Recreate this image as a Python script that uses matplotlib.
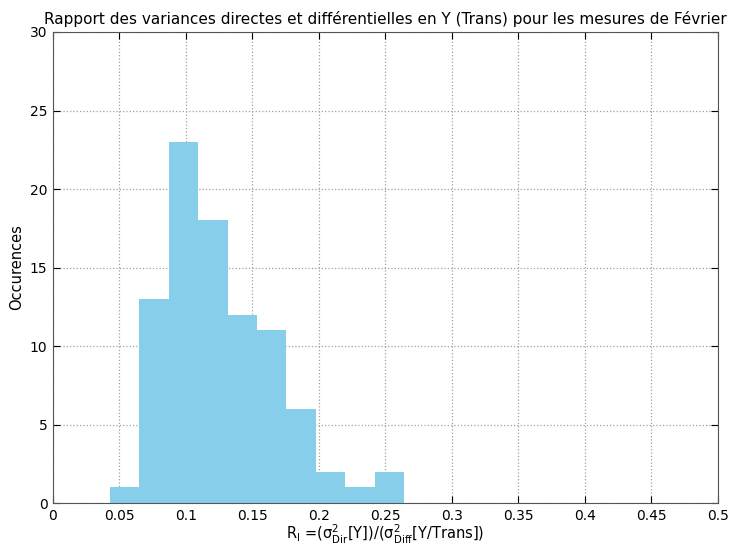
import matplotlib
matplotlib.use("Agg")
import matplotlib.pyplot as plt

# histogram
bin_edges = [0.0429, 0.0650, 0.0871, 0.1092, 0.1313, 0.1534,
             0.1755, 0.1976, 0.2197, 0.2418, 0.2639]
counts = [1, 13, 23, 18, 12, 11, 6, 2, 1, 2]

x_ticks = [0, 0.05, 0.1, 0.15, 0.2, 0.25, 0.3, 0.35, 0.4, 0.45, 0.5]
x_tick_labels = ["0", "0.05", "0.1", "0.15", "0.2", "0.25", "0.3", "0.35", "0.4", "0.45", "0.5"]
y_ticks = [0, 5, 10, 15, 20, 25, 30]

plt.rcParams["mathtext.fontset"] = "dejavusans"
plt.rcParams["font.size"] = 10

fig = plt.figure(figsize=(7.33, 5.47), dpi=100)
ax = fig.add_axes([0.0723, 0.0804, 0.9072, 0.8611])

ax.stairs(counts, bin_edges, fill=True, color="#87ceeb", zorder=2)

ax.set_xlim(0, 0.5)
ax.set_ylim(0, 30)
ax.set_xticks(x_ticks)
ax.set_xticklabels(x_tick_labels)
ax.set_yticks(y_ticks)
ax.tick_params(direction="in", top=True, right=True, length=5, labelsize=10, pad=4)
ax.grid(True, linestyle=":", color="#a0a0a0", linewidth=0.9, zorder=0)
ax.set_axisbelow(True)
for s in ax.spines.values():
    s.set_color("#555555")

ax.set_title("Rapport des variances directes et différentielles en Y (Trans) pour les mesures de Février",
             fontsize=11, pad=6)
ax.set_xlabel(r"R$_\mathrm{I}$ =($\mathrm{σ}^2_{\mathrm{Dir}}$[Y])/($\mathrm{σ}^2_{\mathrm{Diff}}$[Y/Trans])",
              fontsize=10.5, labelpad=0)
ax.set_ylabel("Occurences", fontsize=10.5)

fig.savefig("out.png", dpi=100)
